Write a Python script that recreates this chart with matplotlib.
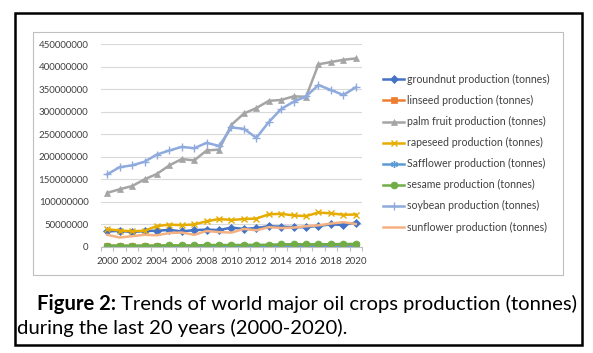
import matplotlib
matplotlib.use("Agg")
import matplotlib.pyplot as plt
from matplotlib.patches import Rectangle
from matplotlib.ticker import FuncFormatter, FixedLocator

plt.rcParams['font.family'] = ['Lato', 'DejaVu Sans']

years = list(range(2000, 2021))
groundnut = [34.5, 36, 33, 35.5, 36, 38, 34.5, 37.5, 38.5, 37.5, 43, 40, 42, 46, 45, 44, 44, 47, 50, 49, 54]
linseed = [2.5, 2.2, 2.1, 2.0, 2.0, 2.8, 2.6, 2.0, 2.1, 2.3, 1.9, 2.6, 2.1, 2.3, 2.8, 2.9, 2.9, 3.2, 3.3, 3.1, 3.4]
palm = [120, 128, 135, 150, 162, 181, 195, 192, 214, 216, 271, 296, 308, 324, 326, 334, 333, 405, 410, 415, 418]
rapeseed = [39.5, 36.5, 35, 36, 46.5, 49.5, 48.5, 50, 57, 62, 60, 62, 63, 72.5, 73.5, 70, 68.5, 76.5, 74.5, 71.5, 72]
safflower = [0.8, 0.7, 0.65, 0.75, 0.65, 0.6, 0.6, 0.65, 0.6, 0.65, 0.7, 0.75, 0.8, 0.8, 0.85, 0.7, 0.75, 0.65, 0.6, 0.6, 0.65]
sesame = [3.3, 3.1, 3.0, 3.2, 3.3, 3.8, 3.5, 3.5, 4.3, 4.4, 4.3, 4.5, 4.7, 5.0, 6.0, 6.1, 6.0, 6.1, 6.3, 6.5, 6.8]
soybean = [161, 177, 181, 189, 205, 214, 222, 219, 231, 224, 265, 262, 242, 277, 306, 322, 334, 359, 348, 337, 354]
sunflower = [27, 21, 24, 27, 26, 31, 32, 27, 35.5, 33, 32, 40, 37, 44, 42, 43, 46, 48, 52, 55, 51]

labels = ["groundnut production (tonnes)", "linseed production (tonnes)",
          "palm fruit production (tonnes)", "rapeseed production (tonnes)",
          "Safflower production (tonnes)", "sesame production (tonnes)",
          "soybean production (tonnes)", "sunflower production (tonnes)"]
y_ticks = [0, 50000000, 100000000, 150000000, 200000000, 250000000, 300000000, 350000000, 400000000, 450000000]

series = [groundnut, linseed, palm, rapeseed, safflower, sesame, soybean, sunflower]
colors = ['#4472C4', '#ED7D31', '#A5A5A5', '#E6AC00', '#5B9BD5', '#70AD47', '#8FAADC', '#F4B183']
markers = ['D', 's', '^', 'x', (6, 2, 0), 'o', '+', None]
msizes = [4, 4.5, 5, 5, 5, 5, 6, 0]

W, H = 593, 353
fig = plt.figure(figsize=(W / 100, H / 100), dpi=100)

def fx(px):
    return px / W

def fy(py):
    return 1 - py / H

# outer black frame
fig.patches.append(Rectangle((fx(15), fy(345)), fx(582) - fx(15), fy(13) - fy(345),
                             transform=fig.transFigure, fill=False, edgecolor='black', linewidth=1.8))
# chart gray frame
fig.patches.append(Rectangle((fx(33), fy(275)), fx(563) - fx(33), fy(32) - fy(275),
                             transform=fig.transFigure, fill=False, edgecolor='#BFBFBF', linewidth=0.8))

ax = fig.add_axes([fx(101), fy(247), fx(362) - fx(101), fy(44) - fy(247)])
x = list(range(len(years)))
handles = []
for vals, c, m, ms, lab in zip(series, colors, markers, msizes, labels):
    v = [a * 1e6 for a in vals]
    mew = 1.0 if m in ('x', '+', (6, 2, 0)) else 0.5
    h, = ax.plot(x, v, color=c, linewidth=1.8, marker=m, markersize=ms,
                 markeredgecolor=c, markerfacecolor=c, markeredgewidth=mew, label=lab)
    handles.append(h)

ax.set_xlim(-0.5, 20.5)
ax.set_ylim(0, 450000000)
ax.set_yticks(y_ticks)
ax.yaxis.set_major_formatter(FuncFormatter(lambda v, p: f"{int(round(v))}"))
ax.set_xticks(x[::2])
ax.set_xticklabels([str(y) for y in years[::2]])
ax.xaxis.set_minor_locator(FixedLocator([i - 0.5 for i in range(22)]))
ax.tick_params(axis='x', which='major', length=0, pad=7, labelsize=7, labelcolor='#404040')
ax.tick_params(axis='x', which='minor', length=3, color='#BFBFBF', width=0.8)
ax.tick_params(axis='y', length=0, pad=9, labelsize=7, labelcolor='#404040')
ax.grid(axis='y', color='#D9D9D9', linewidth=0.8)
ax.set_axisbelow(True)
for s in ['left', 'right', 'top']:
    ax.spines[s].set_visible(False)
ax.spines['bottom'].set_color('#BFBFBF')
ax.spines['bottom'].set_linewidth(0.8)
ax.set_facecolor('none')

lfs = 7.6
leg = fig.legend(handles=handles, loc='upper left', bbox_to_anchor=(fx(383), fy(74)),
                 frameon=False, fontsize=lfs, handlelength=2.0, handletextpad=0.3,
                 labelspacing=0.95, numpoints=1, borderaxespad=0, borderpad=0)
for t in leg.get_texts():
    t.set_color('#404040')

fs = 14.6
t1 = fig.text(fx(37), fy(304), "Figure 2:", fontsize=fs, fontweight='bold', va='center', ha='left')
fig.canvas.draw()
bb = t1.get_window_extent()
fig.text((bb.x1 + 5) / W, fy(304), "Trends of world major oil crops production (tonnes)",
         fontsize=fs, va='center', ha='left')
fig.text(fx(17), fy(328), "during the last 20 years (2000-2020).", fontsize=fs, va='center', ha='left')

fig.savefig("out.png", dpi=100)
